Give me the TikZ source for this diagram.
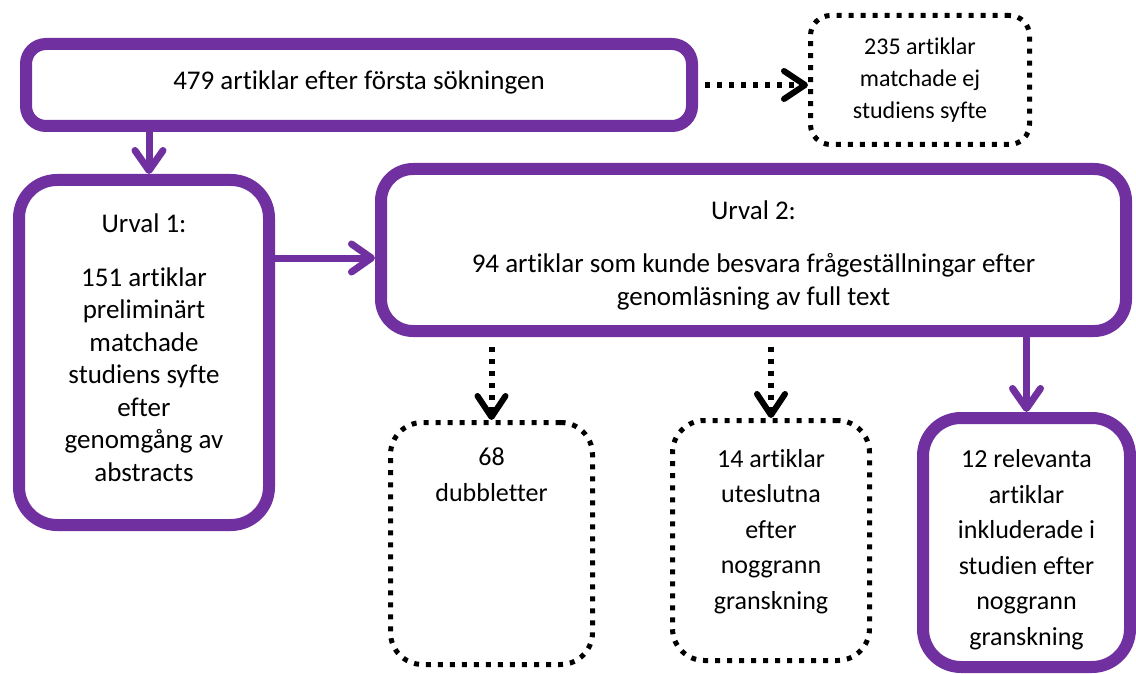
\documentclass[tikz,border=0pt]{standalone}
\usepackage{fontspec}
\setmainfont{Carlito}[Ligatures=CommonOff]
\usetikzlibrary{arrows.meta,positioning}
\definecolor{lila}{HTML}{7030A0}
\begin{document}
\begin{tikzpicture}[x=1pt,y=1pt,
    lilabox/.style={draw=lila,line width=12pt,rounded corners=#1,align=center,inner sep=0pt},
    lilabox/.default=25pt,
    prickbox/.style={draw=black,line width=5pt,dash pattern=on 5pt off 7pt,rounded corners=#1,align=center,inner sep=0pt},
    prickbox/.default=25pt,
    rutext/.style={align=center,inner sep=0pt,font=\fontsize{26}{35.5}\selectfont},
    stortext/.style={align=center,inner sep=0pt,font=\fontsize{27}{32.5}\selectfont},
    lilapil/.style={draw=lila,line width=7pt,-{Straight Barb[length=20pt,width=28pt,round]}},
    prickpil/.style={draw=black,line width=6pt,dash pattern=on 5pt off 7pt,-{Straight Barb[length=21pt,width=28pt,round]}}]
    \useasboundingbox (0,0) rectangle (1136,-674);
    \node[lilabox=20pt,minimum width=666pt,minimum height=82pt] (forsta) at (359,-85) {};
    \node[stortext] (forstatext) at ([yshift=3pt]forsta) {479 artiklar efter första sökningen};
    \node[prickbox=20pt,minimum width=219pt,minimum height=129pt,font=\fontsize{24}{32}\selectfont] (ejsyfte) at (920,-80) {235 artiklar\\matchade ej\\studiens syfte};
    \node[lilabox=38pt,minimum width=250pt,minimum height=345pt] (urval1) at (144,-352.5) {};
    \node[stortext] (urval1text) at ([yshift=5pt]urval1) {Urval 1:\\[21pt]151 artiklar\\preliminärt\\matchade\\studiens syfte\\efter\\genomgång av\\abstracts};
    \node[lilabox=32pt,minimum width=745pt,minimum height=162pt] (urval2) at (753.5,-250) {};
    \node[stortext] (urval2text) at ([yshift=-5pt]urval2) {Urval 2:\\[21pt]94 artiklar som kunde besvara frågeställningar efter\\genomläsning av full text};
    \node[prickbox=32pt,minimum width=202pt,minimum height=242pt] (dubbl) at (491.5,-543.5) {};
    \node[rutext,below=28pt of dubbl.north] (dubbltext) {68\\dubbletter};
    \node[prickbox=32pt,minimum width=197pt,minimum height=240pt] (utesl) at (771,-540.5) {};
    \node[rutext] (utesltext) at ([yshift=9pt]utesl) {14 artiklar\\uteslutna\\efter\\noggrann\\granskning};
    \node[lilabox=38pt,minimum width=207pt,minimum height=249pt] (inkl) at (1026.5,-542.5) {};
    \node[rutext] (inkltext) at ([yshift=-7pt]inkl) {12 relevanta\\artiklar\\inkluderade i\\studien efter\\noggrann\\granskning};
    % pilar
    \draw[lilapil] ([xshift=5pt]urval1.north |- forsta.south) -- ([xshift=5pt]urval1.north);
    \draw[lilapil] ([yshift=-8pt]urval1.east |- urval2.west) -- ([yshift=-8pt]urval2.west);
    \draw[prickpil,shorten <=7pt] (forsta.east) -- (forsta.east -| ejsyfte.west);
    \draw[prickpil,shorten <=10pt] (dubbl.north |- urval2.south) -- (dubbl.north);
    \draw[prickpil,shorten <=10pt] (utesl.north |- urval2.south) -- (utesl.north);
    \draw[lilapil] (inkl.north |- urval2.south) -- (inkl.north);
\end{tikzpicture}
\end{document}
